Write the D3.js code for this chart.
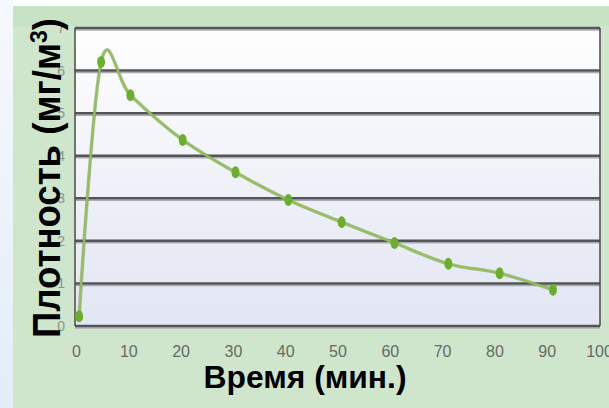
<!DOCTYPE html>
<html>
<head>
<meta charset="utf-8">
<script src="https://cdn.jsdelivr.net/npm/d3@7"></script>
<style>
  html, body { margin: 0; padding: 0; background: #fff; }
  svg { display: block; }
</style>
</head>
<body>
<div id="chart"></div>
<script>
// Time (min) and density (mg/m3)
const times = [0.6, 4.8, 10.4, 20.4, 30.5, 40.6, 50.8, 60.9, 71.2, 81, 91.2];
const density = [0.23, 6.2, 5.42, 4.37, 3.61, 2.96, 2.44, 1.95, 1.46, 1.24, 0.85];
const xTicks = [0, 10, 20, 30, 40, 50, 60, 70, 80, 90, 100];
const yTicks = [0, 1, 2, 3, 4, 5, 6, 7];

const width = 609;
const height = 408;
const margin = { top: 28, right: 9, bottom: 82, left: 75 };
const innerWidth = width - margin.left - margin.right;
const innerHeight = height - margin.top - margin.bottom;

const svg = d3.select("#chart")
  .append("svg")
  .attr("width", width)
  .attr("height", height);

const defs = svg.append("defs");
const bgGrad = defs.append("linearGradient")
  .attr("id", "plotBg").attr("x1", 0).attr("y1", 0).attr("x2", 0).attr("y2", 1);
bgGrad.append("stop").attr("offset", "0%").attr("stop-color", "#fefefe");
bgGrad.append("stop").attr("offset", "100%").attr("stop-color", "#e2e6f3");

const sideGrad = defs.append("linearGradient")
  .attr("id", "sideBg").attr("x1", 0).attr("y1", 0).attr("x2", 0).attr("y2", 1);
sideGrad.append("stop").attr("offset", "0%").attr("stop-color", "#f6f9fc");
sideGrad.append("stop").attr("offset", "100%").attr("stop-color", "#e3edf7");

// page background and green panel
svg.append("rect").attr("width", width).attr("height", height).attr("fill", "#fff");
svg.append("rect").attr("x", 0).attr("y", 0).attr("width", 13).attr("height", height)
  .attr("fill", "url(#sideBg)");
svg.append("rect").attr("x", 13).attr("y", 6).attr("width", width - 13).attr("height", height - 6)
  .attr("fill", "#cfe5cc");
svg.append("rect").attr("x", 13).attr("y", 6).attr("width", width - 13).attr("height", 20)
  .attr("fill", "#c8e2c6");

const inner = svg.append("g")
  .attr("transform", `translate(${margin.left}, ${margin.top})`);

const xScale = d3.scaleLinear().domain([0, 100]).range([1, innerWidth - 1]);
const yScale = d3.scaleLinear().domain([0, 7]).range([innerHeight, 0]);

inner.append("rect")
  .attr("width", innerWidth).attr("height", innerHeight)
  .attr("fill", "url(#plotBg)");

// horizontal grid lines (with a light shadow below)
inner.selectAll(".grid-shadow")
  .data(yTicks)
  .join("line")
  .attr("class", "grid-shadow")
  .attr("x1", 0).attr("x2", innerWidth)
  .attr("y1", d => yScale(d) + 2).attr("y2", d => yScale(d) + 2)
  .attr("stroke", "#a9abb2").attr("stroke-width", 1.5);

inner.selectAll(".grid")
  .data(yTicks)
  .join("line")
  .attr("class", "grid")
  .attr("x1", 0).attr("x2", innerWidth)
  .attr("y1", d => yScale(d)).attr("y2", d => yScale(d))
  .attr("stroke", "#535457").attr("stroke-width", 2.5);

// left and right frame
inner.append("line").attr("x1", 0).attr("x2", 0).attr("y1", 0).attr("y2", innerHeight)
  .attr("stroke", "#4a4a4a").attr("stroke-width", 1.5);
inner.append("line").attr("x1", innerWidth).attr("x2", innerWidth).attr("y1", 0).attr("y2", innerHeight)
  .attr("stroke", "#4a4a4a").attr("stroke-width", 1.5);

// y tick labels (mostly hidden under the title)
const leftAxis = d3.axisLeft(yScale).tickValues(yTicks).tickFormat(d3.format("d"))
  .tickSize(0).tickPadding(10);
const yAxisG = inner.append("g").call(leftAxis);
yAxisG.select(".domain").remove();
yAxisG.selectAll("text")
  .attr("fill", "#8d948c")
  .style("font-family", "'Liberation Sans Narrow', 'Liberation Sans', sans-serif")
  .style("font-size", "14px");

// x axis labels
const bottomAxis = d3.axisBottom(xScale).tickValues(xTicks).tickSize(0).tickPadding(20);
const xAxisG = inner.append("g")
  .attr("transform", `translate(0, ${innerHeight})`)
  .call(bottomAxis);
xAxisG.select(".domain").remove();
xAxisG.selectAll("text")
  .attr("fill", "#656b64")
  .style("font-family", "'Liberation Sans Narrow', 'Liberation Sans', sans-serif")
  .style("font-size", "16px");

// data line
const points = times.map((t, i) => ({ t, v: density[i] }));
const line = d3.line()
  .x(d => xScale(d.t))
  .y(d => yScale(d.v))
  .curve(d3.curveCardinal.tension(0));

inner.append("path")
  .attr("d", line(points))
  .attr("fill", "none")
  .attr("stroke", "#7f9560")
  .attr("stroke-width", 3.5)
  .attr("stroke-opacity", 0.6);
inner.append("path")
  .attr("d", line(points))
  .attr("fill", "none")
  .attr("stroke", "#93c152")
  .attr("stroke-width", 2);

inner.selectAll(".dot")
  .data(points)
  .join("ellipse")
  .attr("class", "dot")
  .attr("cx", d => xScale(d.t))
  .attr("cy", d => yScale(d.v))
  .attr("rx", 4)
  .attr("ry", 6)
  .attr("fill", "#6aaf2c");

// axis titles
svg.append("text")
  .text("Время (мин.)")
  .attr("x", 305)
  .attr("y", 388)
  .attr("text-anchor", "middle")
  .attr("textLength", 203)
  .attr("lengthAdjust", "spacingAndGlyphs")
  .style("font-family", "'Liberation Sans', Arial, sans-serif")
  .style("font-weight", "bold")
  .style("font-size", "31px")
  .attr("fill", "#000");

const yTitle = svg.append("text")
  .attr("transform", "translate(60, 178) rotate(-90)")
  .attr("text-anchor", "middle")
  .attr("textLength", 320)
  .attr("lengthAdjust", "spacingAndGlyphs")
  .style("font-family", "'Liberation Sans', Arial, sans-serif")
  .style("font-weight", "bold")
  .style("font-size", "38px")
  .attr("fill", "#000");
yTitle.append("tspan").text("Плотность (мг/м");
yTitle.append("tspan").text("3").attr("dy", -13).style("font-size", "24px");
yTitle.append("tspan").text(")").attr("dy", 13);
</script>
</body>
</html>
